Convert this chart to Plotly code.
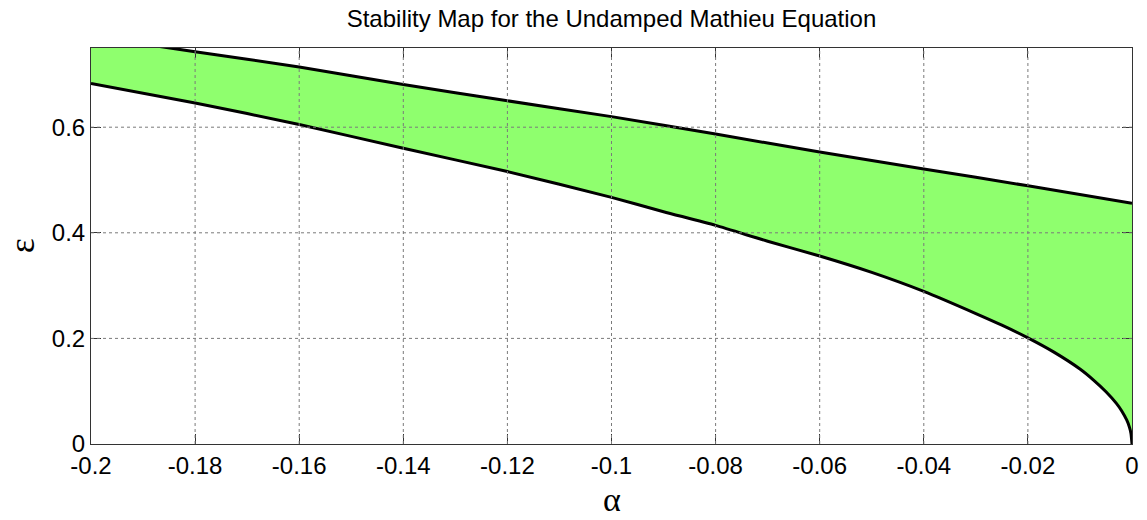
import plotly.graph_objects as go

# Transition curves bounding the unstable tongue (alpha, epsilon)
alpha_lower = [-0.2, -0.18, -0.16, -0.14, -0.12, -0.10, -0.09, -0.08, -0.07, -0.06,
               -0.05, -0.04, -0.03, -0.025, -0.02, -0.015, -0.01, -0.0075, -0.005,
               -0.003, -0.002, -0.001, -0.0005, -0.0002, 0.0]
eps_lower = [0.683, 0.646, 0.605, 0.560, 0.516, 0.467, 0.440, 0.414, 0.384, 0.356,
             0.325, 0.289, 0.247, 0.225, 0.201, 0.174, 0.142, 0.122, 0.099,
             0.077, 0.063, 0.045, 0.032, 0.020, 0.0]

alpha_upper = [-0.2, -0.18, -0.16, -0.14, -0.12, -0.10, -0.08, -0.06, -0.04, -0.02, 0.0]
eps_upper = [0.772, 0.743, 0.714, 0.681, 0.650, 0.620, 0.587, 0.553, 0.521, 0.489, 0.456]

x_ticks = [-0.2, -0.18, -0.16, -0.14, -0.12, -0.1, -0.08, -0.06, -0.04, -0.02, 0]
x_ticklabels = ["-0.2", "-0.18", "-0.16", "-0.14", "-0.12", "-0.1", "-0.08", "-0.06",
                "-0.04", "-0.02", "0"]
y_ticks = [0, 0.2, 0.4, 0.6]
y_ticklabels = ["0", "0.2", "0.4", "0.6"]

fill_color = "rgb(143,255,110)"
sans = "Liberation Sans, Arial, Helvetica, sans-serif"
serif = "Liberation Serif, Times New Roman, serif"

fig = go.Figure()

# Shaded region between the two curves
fig.add_trace(go.Scatter(
    x=alpha_lower + alpha_upper[::-1],
    y=eps_lower + eps_upper[::-1],
    fill="toself", fillcolor=fill_color, mode="none",
    hoverinfo="skip", showlegend=False,
))

# Dotted grid drawn over the fill
grid_line = dict(color="#7a7a7a", width=1, dash="dot")
for v in x_ticks[1:-1]:
    fig.add_shape(type="line", x0=v, x1=v, y0=0, y1=1, xref="x", yref="paper",
                  line=grid_line, layer="above")
for v in y_ticks[1:]:
    fig.add_shape(type="line", x0=0, x1=1, y0=v, y1=v, xref="paper", yref="y",
                  line=grid_line, layer="above")

fig.add_trace(go.Scatter(x=alpha_lower, y=eps_lower, mode="lines",
                         line=dict(color="black", width=3, shape="spline", smoothing=0.6),
                         showlegend=False))
fig.add_trace(go.Scatter(x=alpha_upper, y=eps_upper, mode="lines",
                         line=dict(color="black", width=3, shape="spline", smoothing=0.6),
                         showlegend=False))

# Axis symbols placed as annotations
fig.add_annotation(text="α", xref="paper", yref="paper", x=0.5, y=-0.139,
                   xanchor="center", yanchor="middle", showarrow=False,
                   font=dict(family=serif, size=34, color="black"))
fig.add_annotation(text="ε", xref="paper", yref="paper", x=-0.066, y=0.5,
                   xanchor="center", yanchor="middle", showarrow=False, textangle=-90,
                   font=dict(family=serif, size=36, color="black"))

fig.update_layout(
    width=1147, height=520,
    margin=dict(l=91, r=15, t=48, b=76, autoexpand=False),
    paper_bgcolor="white", plot_bgcolor="white",
    title=dict(text="Stability Map for the Undamped Mathieu Equation",
               x=(91 + 1132) / 2 / 1147, xanchor="center", y=1 - 19 / 520, yanchor="middle",
               font=dict(family=sans, size=24, color="black")),
    showlegend=False,
)
fig.update_xaxes(
    range=[-0.2, 0], tickvals=x_ticks, ticktext=x_ticklabels,
    showgrid=False, zeroline=False, automargin=False,
    showline=True, linecolor="#333", linewidth=1, mirror="ticks",
    ticks="inside", ticklen=10, tickcolor="#333",
    tickfont=dict(family=sans, size=24, color="black"),
)
fig.update_yaxes(
    range=[0, 0.75], tickvals=y_ticks, ticktext=y_ticklabels,
    showgrid=False, zeroline=False, automargin=False,
    showline=True, linecolor="#333", linewidth=1, mirror="ticks",
    ticks="inside", ticklen=10, tickcolor="#333",
    tickfont=dict(family=sans, size=24, color="black"),
)

fig.write_html("out.html")
